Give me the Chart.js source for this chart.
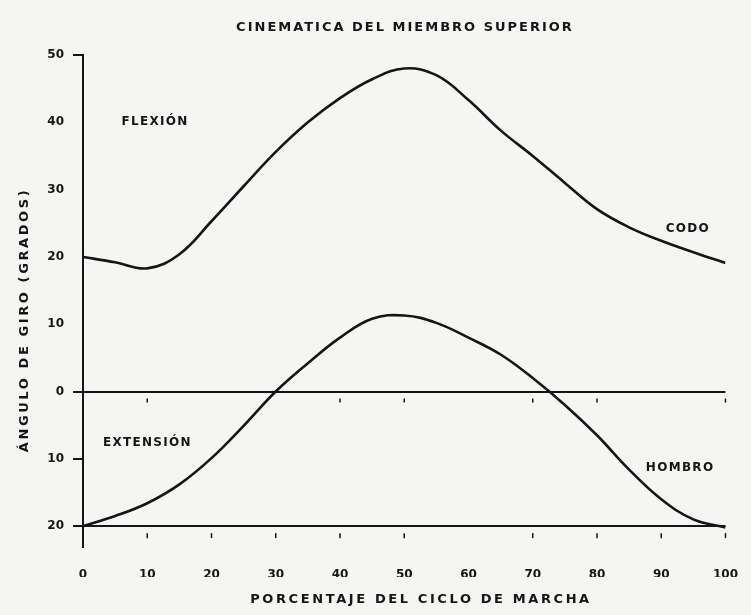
<!DOCTYPE html>
<html>
<head>
<meta charset="utf-8">
<script src="https://cdn.jsdelivr.net/npm/chart.js@4/dist/chart.umd.min.js"></script>
<style>
  html, body { margin: 0; padding: 0; background: #f5f5f3; }
  #wrap { width: 751px; height: 615px; position: relative; }
</style>
</head>
<body>
<div id="wrap"><canvas id="chart"></canvas></div>
<script>
// percent of the gait cycle
const xPct = [0, 5, 10, 15, 20, 25, 30, 35, 40, 45, 50, 55, 60, 65, 70, 75, 80, 85, 90, 95, 100];
// elbow (codo) angle, degrees
const codo = [20, 19.2, 18.3, 20.4, 25.3, 30.5, 35.6, 40.0, 43.6, 46.4, 48.0, 47.0, 43.3, 38.8, 35.0, 31.0, 27.1, 24.4, 22.4, 20.7, 19.1];
// shoulder (hombro) angle, degrees (negative = extension)
const hombro = [-20, -18.5, -16.6, -13.8, -9.9, -5.1, 0, 4.2, 8.0, 10.8, 11.3, 10.2, 8.0, 5.5, 2.0, -2.0, -6.5, -11.6, -16.0, -19.0, -20.2];

const yTickValues = [50, 40, 30, 20, 10, 0, -10, -20];
const xTickValues = [0, 10, 20, 30, 40, 50, 60, 70, 80, 90, 100];
const yTickMarks = [50, 0, -10, -20];   // ticks that show a dash on the axis
const zeroLineMarks = [10, 40, 50, 70, 80, 100];
const baseLineMarks = [10, 20, 30, 40, 50, 70, 80, 90, 100];

const ink = '#151515';
const font = '"DejaVu Sans", sans-serif';

// text placed inside the plot, anchored at data coords (left edge, middle)
const notes = [
    { text: 'FLEXIÓN', x: 6.0, y: 40 },
    { text: 'EXTENSIÓN', x: 3.1, y: -7.7 },
    { text: 'CODO', x: 90.7, y: 24.2 },
    { text: 'HOMBRO', x: 87.6, y: -11.4 },
];

function spacedText(ctx, text, x, y, size, spacing, align) {
    ctx.save();
    ctx.font = 'bold ' + size + 'px ' + font;
    ctx.letterSpacing = spacing + 'px';
    ctx.fillStyle = ink;
    ctx.textAlign = align || 'center';
    ctx.textBaseline = 'middle';
    ctx.fillText(text, x, y);
    ctx.restore();
}

const textPlugin = {
    id: 'textPlugin',
    afterDraw(chart) {
        const ctx = chart.ctx;
        const xs = chart.scales.x, ys = chart.scales.y;

        // small dashes under the 0 and -20 lines
        ctx.save();
        ctx.strokeStyle = ink;
        ctx.lineWidth = 1.5;
        zeroLineMarks.forEach(v => {
            const px = xs.getPixelForValue(v), py = ys.getPixelForValue(0);
            ctx.beginPath(); ctx.moveTo(px, py + 7); ctx.lineTo(px, py + 11); ctx.stroke();
        });
        baseLineMarks.forEach(v => {
            const px = xs.getPixelForValue(v), py = ys.getPixelForValue(-20);
            ctx.beginPath(); ctx.moveTo(px, py + 7); ctx.lineTo(px, py + 12); ctx.stroke();
        });
        ctx.restore();

        notes.forEach(n => {
            spacedText(ctx, n.text, xs.getPixelForValue(n.x), ys.getPixelForValue(n.y), 12, 1.3, 'left');
        });

        spacedText(ctx, 'CINEMATICA DEL MIEMBRO SUPERIOR', 405, 28, 13, 2);
        spacedText(ctx, 'PORCENTAJE DEL CICLO DE MARCHA', 421, 600, 13, 2.6);

        ctx.save();
        ctx.translate(25, 320);
        ctx.rotate(-Math.PI / 2);
        spacedText(ctx, 'ÁNGULO DE GIRO (GRADOS)', 0, 0, 13, 2.6);
        ctx.restore();
    }
};

const ctx = document.getElementById('chart').getContext('2d');
new Chart(ctx, {
    type: 'line',
    data: {
        datasets: [{
            label: 'Codo',
            data: xPct.map((x, i) => ({ x: x, y: codo[i] })),
            borderColor: ink,
            borderWidth: 2.6,
            pointRadius: 0,
            tension: 0.4,
        }, {
            label: 'Hombro',
            data: xPct.map((x, i) => ({ x: x, y: hombro[i] })),
            borderColor: ink,
            borderWidth: 2.6,
            pointRadius: 0,
            tension: 0.4,
        }]
    },
    options: {
        responsive: true,
        maintainAspectRatio: false,
        animation: false,
        layout: {
            padding: { top: 55, left: 10, right: 23, bottom: 38 }
        },
        plugins: {
            legend: { display: false },
            tooltip: { enabled: false },
            title: { display: false },
        },
        scales: {
            x: {
                type: 'linear',
                min: 0,
                max: 100,
                afterBuildTicks: scale => { scale.ticks = xTickValues.map(v => ({ value: v })); },
                afterFit: scale => { scale.height = 30; },
                grid: { display: false },
                border: { display: false },
                ticks: {
                    color: ink,
                    padding: 13,
                    maxRotation: 0,
                    font: { family: font, size: 12, weight: 'bold' },
                },
            },
            y: {
                min: -23.1,
                max: 50,
                afterBuildTicks: scale => { scale.ticks = yTickValues.map(v => ({ value: v })); },
                afterFit: scale => { scale.width = 73; },
                border: { display: true, color: ink, width: 2 },
                grid: {
                    lineWidth: 2,
                    tickLength: 10,
                    color: c => (c.tick && (c.tick.value === 0 || c.tick.value === -20)) ? ink : 'rgba(0,0,0,0)',
                    tickColor: c => (c.tick && yTickMarks.includes(c.tick.value)) ? ink : 'rgba(0,0,0,0)',
                },
                ticks: {
                    color: ink,
                    padding: 9,
                    font: { family: font, size: 12, weight: 'bold' },
                    callback: v => Math.abs(v),
                },
            }
        }
    },
    plugins: [textPlugin]
});
</script>
</body>
</html>
